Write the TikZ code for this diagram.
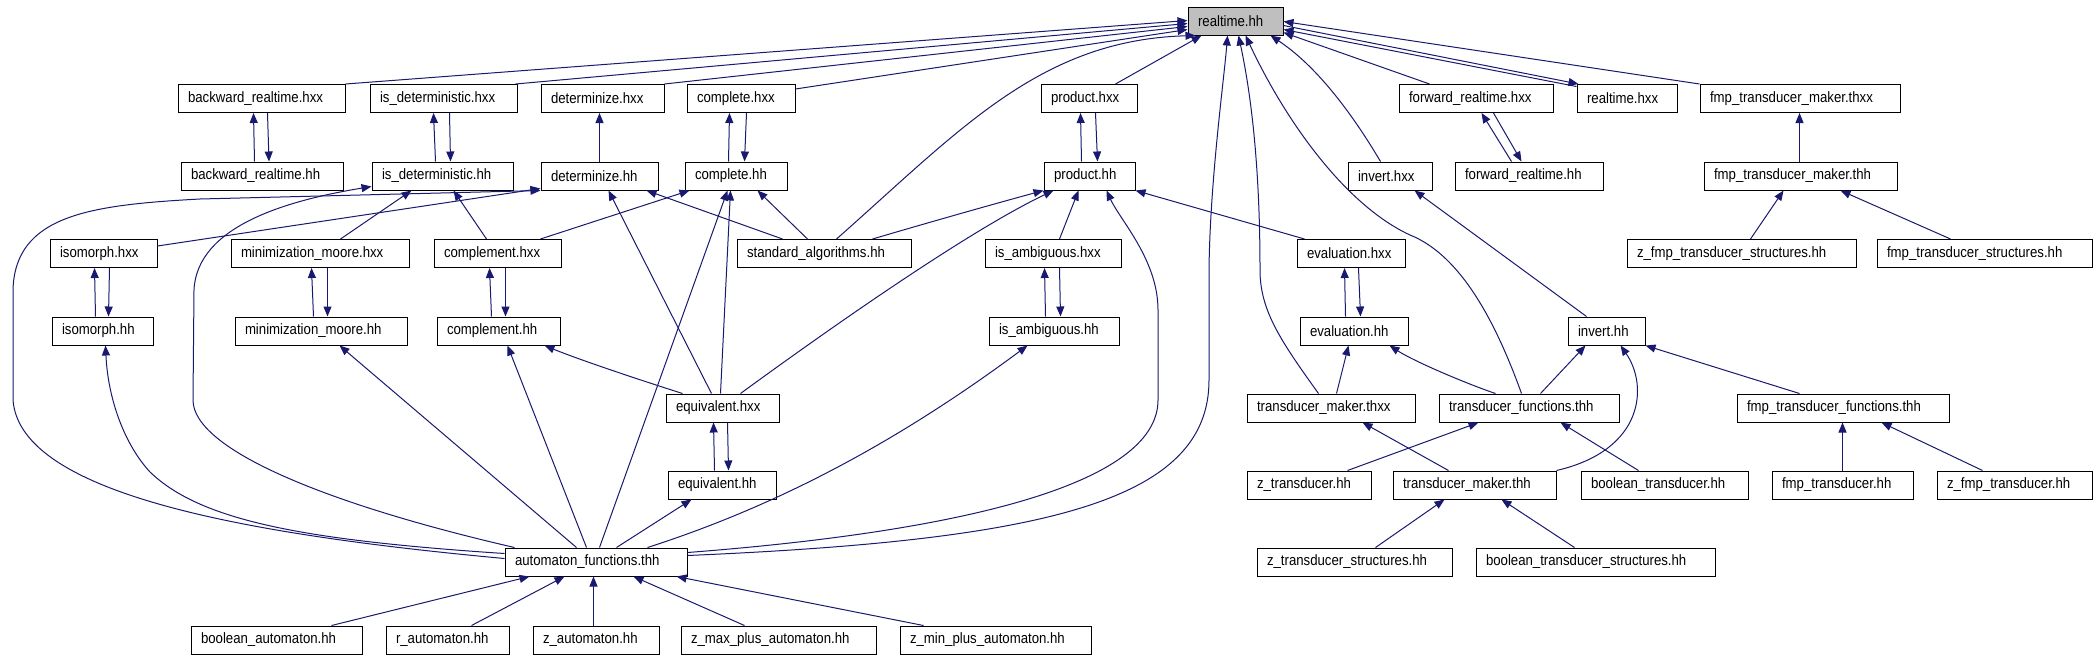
\documentclass[tikz,border=0pt]{standalone}
\usepackage{fontspec}
\setmainfont[FakeStretch=0.88]{Liberation Sans}
\usetikzlibrary{arrows.meta,calc}
\definecolor{navy}{HTML}{191970}
\definecolor{rtgray}{HTML}{BFBFBF}
\newcommand\mkbox[6][white]{%
  \pgfmathsetmacro\mkw{(#4-#3)*0.5-10}%
  \pgfmathsetmacro\mkc{(#3+#4)/2}%
  \node[gbox,fill=#1,text width=\mkw pt] (#2) at (\mkc,#5) {#6};}
\begin{document}
\begin{tikzpicture}[x=0.5pt,y=-0.5pt,
  gbox/.style={draw=black,line width=0.5pt,inner xsep=5pt,inner ysep=0pt,
    minimum height=14pt,align=left,font=\fontsize{7.5}{9}\selectfont},
  edge/.style={draw=navy,line width=0.5pt,-{Triangle[length=5pt,width=4pt]}}]
\fill[white] (0,0) rectangle (2097,659);
\useasboundingbox (0,0) rectangle (2097,659);
% row 0
\mkbox[rtgray]{rt}{1188}{1283}{21}{realtime.hh}
% row 1
\mkbox{brx}{178}{345}{98.5}{backward\_realtime.hxx}
\mkbox{idx}{370}{517}{98.5}{is\_deterministic.hxx}
\mkbox{dzx}{541}{664}{98.5}{determinize.hxx}
\mkbox{cpx}{687}{795}{98.5}{complete.hxx}
\mkbox{pdx}{1041}{1137}{98.5}{product.hxx}
\mkbox{frx}{1399}{1553}{98.5}{forward\_realtime.hxx}
\mkbox{rtx}{1577}{1677}{98.5}{realtime.hxx}
\mkbox{fmx}{1700}{1900}{98.5}{fmp\_transducer\_maker.thxx}
% row 2
\mkbox{brh}{181}{343}{176}{backward\_realtime.hh}
\mkbox{idh}{372}{513}{176}{is\_deterministic.hh}
\mkbox{dzh}{541}{658}{176}{determinize.hh}
\mkbox{cph}{685}{787}{176}{complete.hh}
\mkbox{pdh}{1044}{1135}{176}{product.hh}
\mkbox{ivx}{1348}{1432}{176}{invert.hxx}
\mkbox{frh}{1455}{1603}{176}{forward\_realtime.hh}
\mkbox{fmh}{1704}{1897}{176}{fmp\_transducer\_maker.thh}
% row 3
\mkbox{isx}{50}{157}{253.5}{isomorph.hxx}
\mkbox{mmx}{231}{409}{253.5}{minimization\_moore.hxx}
\mkbox{cmx}{434}{561}{253.5}{complement.hxx}
\mkbox{sta}{737}{911}{253.5}{standard\_algorithms.hh}
\mkbox{iax}{985}{1121}{253.5}{is\_ambiguous.hxx}
\mkbox{evx}{1297}{1405}{253.5}{evaluation.hxx}
\mkbox{zfs}{1627}{1856}{253.5}{z\_fmp\_transducer\_structures.hh}
\mkbox{fts}{1877}{2092}{253.5}{fmp\_transducer\_structures.hh}
% row 4
\mkbox{ish}{52}{153}{331}{isomorph.hh}
\mkbox{mmh}{235}{407}{331}{minimization\_moore.hh}
\mkbox{cmh}{437}{560}{331}{complement.hh}
\mkbox{iah}{989}{1119}{331}{is\_ambiguous.hh}
\mkbox{evh}{1300}{1408}{331}{evaluation.hh}
\mkbox{ivh}{1568}{1645}{331}{invert.hh}
% row 5
\mkbox{eqx}{666}{779}{408}{equivalent.hxx}
\mkbox{tmx}{1247}{1415}{408}{transducer\_maker.thxx}
\mkbox{tfh}{1439}{1619}{408}{transducer\_functions.thh}
\mkbox{ffh}{1737}{1949}{408}{fmp\_transducer\_functions.thh}
% row 6
\mkbox{eqh}{668}{776}{485}{equivalent.hh}
\mkbox{ztr}{1247}{1371}{485}{z\_transducer.hh}
\mkbox{tmh}{1393}{1556}{485}{transducer\_maker.thh}
\mkbox{btr}{1581}{1748}{485}{boolean\_transducer.hh}
\mkbox{fmt}{1772}{1913}{485}{fmp\_transducer.hh}
\mkbox{zft}{1937}{2092}{485}{z\_fmp\_transducer.hh}
% row 7
\mkbox{afn}{505}{687}{562}{automaton\_functions.thh}
\mkbox{zts}{1257}{1452}{562}{z\_transducer\_structures.hh}
\mkbox{bts}{1476}{1715}{562}{boolean\_transducer\_structures.hh}
% row 8
\mkbox{bau}{191}{362}{640}{boolean\_automaton.hh}
\mkbox{rau}{386}{509}{640}{r\_automaton.hh}
\mkbox{zau}{533}{659}{640}{z\_automaton.hh}
\mkbox{zmx}{681}{876}{640}{z\_max\_plus\_automaton.hh}
\mkbox{zmn}{900}{1091}{640}{z\_min\_plus\_automaton.hh}

% ---- edges to realtime.hh
\draw[edge] (brx.north east) -- ($(rt.north west)+(0,14)$);
\draw[edge] ($(idx.north east)+(-2,0)$) -- ($(rt.north west)+(0,17)$);
\draw[edge] (dzx.north east) -- ($(rt.north west)+(0,20)$);
\draw[edge] ($(cpx.north east)+(0,5)$) -- ($(rt.north west)+(0,23)$);
\draw[edge] ($(sta.north west)+(100,0)$) .. controls (960,130) and (1040,40) .. ($(rt.south west)+(8,0)$);
\draw[edge] ($(pdx.north west)+(75,0)$) -- ($(rt.south west)+(14,0)$);
\draw[edge] ($(afn.north east)+(0,8)$) .. controls (1050,540) and (1209,500) .. (1209,380) -- (1209,270) .. controls (1210,180) and (1224,80) .. ($(rt.south west)+(40,0)$);
\draw[edge] ($(tmx.north west)+(72,0)$) .. controls (1280,340) and (1260,310) .. (1260,270) .. controls (1260,150) and (1248,80) .. ($(rt.south west)+(51,0)$);
\draw[edge] ($(tfh.north west)+(83,0)$) .. controls (1495,320) and (1460,255) .. (1410,235) .. controls (1345,205) and (1285,120) .. ($(rt.south west)+(58,0)$);
\draw[edge] ($(ivx.north west)+(33,0)$) .. controls (1350,110) and (1315,65) .. ($(rt.south west)+(83,0)$);
\draw[edge] ($(frx.north west)+(31,0)$) -- ($(rt.north east)+(0,26)$);
\draw[edge] ($(rt.north east)+(0,19)$) -- ($(rtx.north west)+(2,0)$);
\draw[edge] ($(rtx.north west)+(0,2.5)$) -- ($(rt.north east)+(0,23)$);
\draw[edge] (fmx.north west) -- ($(rt.north east)+(0,15)$);

% ---- pairs rows 1-2
\draw[edge] ($(brh.north west)+(74,0)$) -- ($(brx.south west)+(76,0)$);
\draw[edge] ($(brx.south west)+(90,0)$) -- ($(brh.north west)+(88.5,0)$);
\draw[edge] ($(idh.north west)+(64,0)$) -- ($(idx.south west)+(64,0)$);
\draw[edge] ($(idx.south west)+(80,0)$) -- ($(idh.north west)+(79,0)$);
\draw[edge] ($(dzh.north west)+(59,0)$) -- ($(dzx.south west)+(59,0)$);
\draw[edge] ($(cph.north west)+(44,0)$) -- ($(cpx.south west)+(43,0)$);
\draw[edge] ($(cpx.south west)+(60,0)$) -- ($(cph.north west)+(60,0)$);
\draw[edge] ($(pdh.north west)+(38,0)$) -- ($(pdx.south west)+(40,0)$);
\draw[edge] ($(pdx.south west)+(55,0)$) -- ($(pdh.north west)+(54,0)$);
\draw[edge] ($(frh.north west)+(57,0)$) -- ($(frx.south west)+(83,0)$);
\draw[edge] ($(frx.south west)+(95,0)$) -- ($(frh.north west)+(67,0)$);
\draw[edge] ($(fmh.north west)+(96,0)$) -- ($(fmx.south west)+(100,0)$);

% ---- pairs rows 3-4, 5-6
\draw[edge] ($(ish.north west)+(44,0)$) -- ($(isx.south west)+(45,0)$);
\draw[edge] ($(isx.south west)+(60,0)$) -- ($(ish.north west)+(57,0)$);
\draw[edge] ($(mmh.north west)+(79,0)$) -- ($(mmx.south west)+(81,0)$);
\draw[edge] ($(mmx.south west)+(97,0)$) -- ($(mmh.north west)+(93,0)$);
\draw[edge] ($(cmh.north west)+(55,0)$) -- ($(cmx.south west)+(56,0)$);
\draw[edge] ($(cmx.south west)+(72,0)$) -- ($(cmh.north west)+(69,0)$);
\draw[edge] ($(iah.north west)+(57,0)$) -- ($(iax.south west)+(60,0)$);
\draw[edge] ($(iax.south west)+(75,0)$) -- ($(iah.north west)+(72,0)$);
\draw[edge] ($(evh.north west)+(46,0)$) -- ($(evx.south west)+(48,0)$);
\draw[edge] ($(evx.south west)+(62,0)$) -- ($(evh.north west)+(61,0)$);
\draw[edge] ($(eqh.north west)+(47,0)$) -- ($(eqx.south west)+(48,0)$);
\draw[edge] ($(eqx.south west)+(62,0)$) -- ($(eqh.north west)+(61,0)$);

% ---- to row 2
\draw[edge] ($(afn.north west)+(10,0)$) .. controls (330,505) and (193,450) .. (193,400) -- (194,290) .. controls (197,225) and (290,200) .. ($(idh.north west)+(0,25)$);
\draw[edge] ($(mmx.north west)+(110,0)$) -- ($(idh.south west)+(40,0)$);
\draw[edge] ($(cmx.north west)+(53,0)$) -- ($(idh.south west)+(82,0)$);
\draw[edge] ($(afn.north west)+(0,11)$) .. controls (250,535) and (20,495) .. (13,400) -- (13,290) .. controls (15,215) and (90,205) .. (200,199) -- (dzh.south west);
\draw[edge] ($(isx.north east)+(0,7)$) -- ($(dzh.south west)+(0,-2)$);
\draw[edge] ($(eqx.north west)+(46,0)$) -- ($(dzh.south west)+(68,0)$);
\draw[edge] ($(sta.north west)+(46,0)$) -- ($(dzh.south west)+(106,0)$);
\draw[edge] ($(cmx.north east)+(-21,0)$) -- ($(cph.south west)+(5,0)$);
\draw[edge] ($(afn.north west)+(95,0)$) -- ($(cph.south west)+(43,0)$);
\draw[edge] ($(eqx.north west)+(55,0)$) -- ($(cph.south west)+(46,0)$);
\draw[edge] ($(sta.north west)+(71,0)$) -- ($(cph.south west)+(73,0)$);
\draw[edge] ($(sta.north east)+(-39,0)$) .. controls (920,225) and (990,205) .. (pdh.south west);
\draw[edge] ($(eqx.north east)+(-39,0)$) .. controls (800,350) and (960,235) .. ($(pdh.south west)+(10,0)$);
\draw[edge] ($(iax.north west)+(75,0)$) -- ($(pdh.south west)+(35,0)$);
\draw[edge] ($(afn.north east)+(0,5)$) .. controls (980,530) and (1158,480) .. (1158,400) -- (1158,310) .. controls (1158,260) and (1120,220) .. ($(pdh.south west)+(63,0)$);
\draw[edge] ($(evx.north west)+(8,0)$) -- (pdh.south east);
\draw[edge] ($(ivh.north west)+(19,0)$) -- ($(ivx.south west)+(67,0)$);
\draw[edge] ($(zfs.north west)+(124,0)$) -- ($(fmh.south west)+(80,0)$);
\draw[edge] ($(fts.north west)+(74,0)$) -- ($(fmh.south west)+(137,0)$);

% ---- to row 4
\draw[edge] ($(afn.north west)+(0,6)$) .. controls (300,540) and (200,520) .. (150,472) .. controls (125,445) and (108,400) .. ($(ish.south west)+(54,0)$);
\draw[edge] ($(afn.north west)+(72,0)$) -- ($(mmh.south west)+(105,0)$);
\draw[edge] ($(afn.north west)+(82,0)$) -- ($(cmh.south west)+(71,0)$);
\draw[edge] ($(eqx.north west)+(17,0)$) .. controls (640,380) and (580,360) .. ($(cmh.south west)+(108,0)$);
\draw[edge] ($(afn.north west)+(143,0)$) .. controls (780,505) and (900,440) .. ($(iah.south west)+(39,0)$);
\draw[edge] ($(tmx.north west)+(90,0)$) -- ($(evh.south west)+(49,0)$);
\draw[edge] ($(tfh.north west)+(57,0)$) .. controls (1470,385) and (1415,362) .. ($(evh.south west)+(90,0)$);
\draw[edge] ($(tfh.north west)+(102,0)$) -- ($(ivh.south west)+(18,0)$);
\draw[edge] (tmh.north east) .. controls (1645,450) and (1648,385) .. ($(ivh.south west)+(53,0)$);
\draw[edge] ($(ffh.north west)+(63,0)$) -- (ivh.south east);

% ---- to row 5
\draw[edge] ($(tmh.north west)+(56,0)$) -- ($(tmx.south west)+(116,0)$);
\draw[edge] ($(ztr.north west)+(101,0)$) -- ($(tfh.south west)+(40,0)$);
\draw[edge] ($(btr.north west)+(58,0)$) -- ($(tfh.south west)+(122,0)$);
\draw[edge] ($(fmt.north west)+(71,0)$) -- ($(ffh.south west)+(106,0)$);
\draw[edge] ($(zft.north west)+(46,0)$) -- ($(ffh.south west)+(145,0)$);

% ---- to row 6
\draw[edge] ($(afn.north west)+(112,0)$) -- ($(eqh.south west)+(24,0)$);
\draw[edge] ($(zts.north west)+(119,0)$) -- ($(tmh.south west)+(52,0)$);
\draw[edge] ($(bts.north west)+(99,0)$) -- ($(tmh.south west)+(109,0)$);

% ---- to automaton_functions.thh
\draw[edge] ($(bau.north west)+(141,0)$) -- ($(afn.south west)+(25,0)$);
\draw[edge] ($(rau.north west)+(86,0)$) -- ($(afn.south west)+(60,0)$);
\draw[edge] ($(zau.north west)+(61,0)$) -- ($(afn.south west)+(89,0)$);
\draw[edge] ($(zmx.north west)+(64,0)$) -- ($(afn.south west)+(129,0)$);
\draw[edge] ($(zmn.north west)+(24,0)$) -- ($(afn.south west)+(172,0)$);
\end{tikzpicture}
\end{document}
